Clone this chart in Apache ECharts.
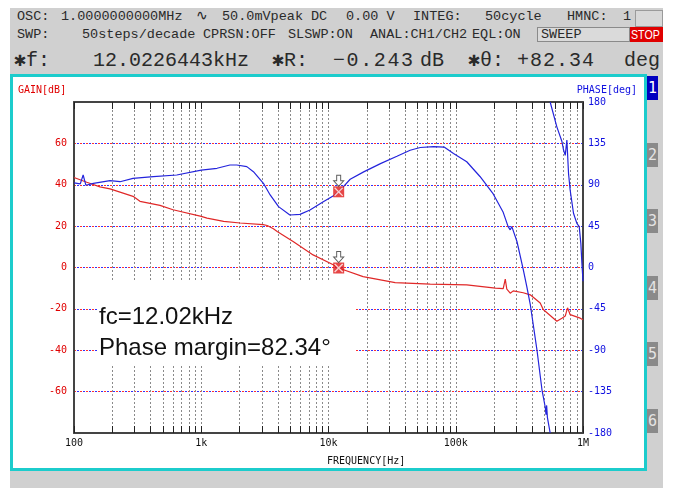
<!DOCTYPE html>
<html>
<head>
<meta charset="utf-8">
<script src="https://cdn.jsdelivr.net/npm/echarts@6/dist/echarts.min.js"></script>
<style>
  body { margin: 0; width: 676px; height: 488px; position: relative; background: #fff; overflow: hidden; font-family: 'Liberation Mono', monospace; }
  #panel { position: absolute; left: 10px; top: 8px; width: 653px; height: 480px; background: #d0d0d0; }
  #frame { position: absolute; left: 10px; top: 74px; width: 631px; height: 391px; border: 3px solid #1ccccc; background: #fff; }
  .t { position: absolute; white-space: pre; line-height: 1; color: #2a2a2a; }
  .s { font-size: 13.5px; }
  .b { font-size: 20px; }
  .box { position: absolute; box-sizing: border-box; }
  .tab { position: absolute; left: 647px; width: 11px; height: 24px; background: #8a8a8a; color: #e4e4e4; font-family: 'DejaVu Sans Mono', monospace; font-size: 15px; line-height: 24px; text-align: center; }
  #chart { position: absolute; left: 0; top: 0; width: 676px; height: 488px; }
</style>
</head>
<body>
<div id="panel"></div>

<!-- header readouts -->
<div class="t s" style="left:17px;top:10px">OSC:</div>
<div class="t s" style="left:61px;top:10px">1.0000000000MHz</div>
<div class="t s" style="left:196px;top:10px">∿</div>
<div class="t s" style="left:222px;top:10px">50.0mVpeak</div>
<div class="t s" style="left:311px;top:10px">DC</div>
<div class="t s" style="left:346px;top:10px">0.00 V</div>
<div class="t s" style="left:413px;top:10px">INTEG:</div>
<div class="t s" style="left:485px;top:10px">50cycle</div>
<div class="t s" style="left:567px;top:10px">HMNC:</div>
<div class="t s" style="left:623px;top:10px">1</div>
<div class="box" style="left:635px;top:10px;width:28px;height:17px;border:1px solid #9a9a9a;background:#d8d8d8"></div>

<div class="t s" style="left:17px;top:28px">SWP:</div>
<div class="t s" style="left:82px;top:28px">50steps/decade</div>
<div class="t s" style="left:203px;top:28px">CPRSN:OFF</div>
<div class="t s" style="left:288px;top:28px">SLSWP:ON</div>
<div class="t s" style="left:370px;top:28px">ANAL:CH1/CH2</div>
<div class="t s" style="left:472px;top:28px">EQL:ON</div>
<div class="box" style="left:537px;top:27px;width:93px;height:15px;border:1px solid #8a8a8a;background:#dadada"></div>
<div class="t s" style="left:541px;top:28px">SWEEP</div>
<div class="box" style="left:630px;top:27px;width:33px;height:15px;background:#e00000"></div>
<div class="t" style="left:631px;top:28px;font-family:'Liberation Sans',sans-serif;font-size:13px;color:#fff;transform:scaleX(0.82);transform-origin:left top">STOP</div>

<div class="t b" style="left:14px;top:51px">✱f:</div>
<div class="t b" style="left:93px;top:51px">12.0226443kHz</div>
<div class="t b" style="left:272px;top:51px">✱R:</div>
<div class="t b" style="left:333px;top:51px;letter-spacing:1.6px">−0.243</div>
<div class="t b" style="left:420px;top:51px">dB</div>
<div class="t b" style="left:468px;top:51px">✱θ:</div>
<div class="t b" style="left:517px;top:51px;letter-spacing:1px">+82.34</div>
<div class="t b" style="left:624px;top:51px">deg</div>

<div id="frame"></div>

<div class="tab" style="top:76px;background:#0000c0;color:#fff">1</div>
<div class="tab" style="top:143px">2</div>
<div class="tab" style="top:209px">3</div>
<div class="tab" style="top:276px">4</div>
<div class="tab" style="top:342px">5</div>
<div class="tab" style="top:409px">6</div>

<div id="chart"></div>

<script>
// frequency axis
const freqMin = 100
const freqMax = 1000000
const freqTicks = [100, 1000, 10000, 100000, 1000000]
const freqTickLabels = ['100', '1k', '10k', '100k', '1M']

// gain trace (red, left axis)
const gainFreq = [100, 126, 160, 192, 291, 330, 474, 600, 1000, 1110, 1500, 2020, 3060, 3300, 3690,
  3950, 5270, 7570, 10900, 12300, 18700, 33400, 63000, 122000, 205000, 236000, 245000, 252000,
  268000, 283000, 339000, 385000, 461000, 487000, 623000, 683000, 725000, 756000, 793000, 951000, 1000000]
const gainDb = [43.5, 41.2, 39, 38, 34.4, 32, 30, 27.9, 24.7, 23.9, 22.3, 21.5, 20.7, 20.3, 18.7,
  17.4, 12.6, 6.1, 1.3, -0.5, -4.4, -7.3, -8, -8.4, -10, -10.2, -5.6, -10.5,
  -12.4, -11.3, -12.2, -13.2, -17.2, -20.3, -26, -24.5, -23.5, -19.5, -22.8, -24.5, -25.3]

// phase trace (blue, right axis), null = wrap from -180 to +180
const phaseFreq = [100, 112, 118, 124, 142, 192, 230, 291, 420, 642, 1000, 1330, 1680, 1900, 2280,
  2570, 3080, 3480, 4050, 4970, 5970, 7150, 9100, 11200, 12023, 14800, 18900, 25600, 34500,
  43800, 52600, 67000, 81000, 96000, 122000, 155000, 197000, 236000, 258000, 268000, 276000,
  303000, 339000, 362000, 385000, 435000, 476000, 505000, 512000, 518000, 525000, 552000,
  552000, 552000, 623000, 683000, 703000, 725000, 747000, 770000, 793000, 842000, 895000,
  934000, 962000, 980000, 1000000, 1000000]
const phaseDeg = [92, 91, 100.6, 89.5, 91.5, 94.4, 93.3, 97, 98.8, 100.6, 106, 107.9, 111.5, 111.5, 109.7,
  104.2, 91.6, 78.9, 66.2, 57.1, 57.8, 62.5, 71.5, 78.9, 82.34, 96, 104, 113, 121,
  127.5, 130.5, 131.5, 131, 124, 115, 99, 80, 60, 44.5, 41, 44.5,
  28, -2, -21, -40, -90, -133, -152, -160, -150, -163, -180,
  null, 180, 153, 137, 128, 122, 138.7, 102, 84, 59, 48,
  44.5, 26, 5, 4, -15]

// cursor readout
const markerFreq = 12022.6443
const markerGain = -0.243
const markerPhase = 82.34

const gainAxis = { min: -80, max: 80, interval: 20 }
const phaseAxis = { min: -180, max: 180, interval: 45 }

const monoFont = 'DejaVu Sans Mono'

function freqLabel(v) {
  const i = freqTicks.findIndex(t => Math.abs(t - v) / t < 1e-6)
  return i >= 0 ? freqTickLabels[i] : ''
}

function freqAxis(position, withLabels) {
  return {
    type: 'log',
    logBase: 10,
    min: freqMin,
    max: freqMax,
    position: position,
    axisLine: { show: true, onZero: false, lineStyle: { color: '#444', width: 2 } },
    axisTick: { show: true, inside: true, length: 7, lineStyle: { color: '#222' } },
    minorTick: { show: true, splitNumber: 9, length: 7, lineStyle: { color: '#222' } },
    axisLabel: {
      show: withLabels,
      showMinLabel: true,
      showMaxLabel: true,
      formatter: freqLabel,
      color: '#111',
      fontFamily: monoFont,
      fontSize: 10,
      margin: 5
    },
    splitLine: { show: withLabels, showMinLine: false, showMaxLine: false, lineStyle: { color: '#8a8a8a', type: [2, 2] } },
    minorSplitLine: { show: withLabels, lineStyle: { color: '#8a8a8a', type: [2, 2] } }
  }
}

function markerSeries(yIndex, val) {
  const pt = [[markerFreq, val]]
  return [
    { type: 'scatter', yAxisIndex: yIndex, data: pt, symbol: 'rect', symbolSize: 11,
      itemStyle: { color: '#e01818' }, z: 5, silent: true },
    { type: 'scatter', yAxisIndex: yIndex, data: pt,
      symbol: 'path://M0,1L1,0L5,4L9,0L10,1L6,5L10,9L9,10L5,6L1,10L0,9L4,5Z', symbolSize: 9,
      itemStyle: { color: '#fff' }, z: 6, silent: true },
    { type: 'scatter', yAxisIndex: yIndex, data: pt,
      symbol: 'path://M3,0H7V5H10L5,10L0,5H3Z', symbolSize: [10, 11], symbolOffset: [0, -11],
      itemStyle: { color: '#fff', borderColor: '#333', borderWidth: 1 }, z: 6, silent: true }
  ]
}

const chart = echarts.init(document.getElementById('chart'), null, { renderer: 'canvas' })

chart.setOption({
  backgroundColor: 'transparent',
  animation: false,
  grid: { left: 74, right: 93, top: 102, bottom: 55, show: false },
  xAxis: [freqAxis('bottom', true), freqAxis('top', false)],
  yAxis: [
    {
      type: 'value',
      position: 'left',
      min: gainAxis.min,
      max: gainAxis.max,
      interval: gainAxis.interval,
      axisLine: { show: true, onZero: false, lineStyle: { color: '#444', width: 2 } },
      axisTick: { show: false },
      axisLabel: {
        color: '#e00000', fontFamily: monoFont, fontSize: 10, margin: 7,
        formatter: v => (v === gainAxis.min || v === gainAxis.max) ? '' : String(v)
      },
      splitLine: { show: true, showMinLine: false, showMaxLine: false,
        lineStyle: { color: '#ff3030', type: [2, 4], dashOffset: 0 } }
    },
    {
      type: 'value',
      position: 'right',
      min: phaseAxis.min,
      max: phaseAxis.max,
      interval: phaseAxis.interval,
      axisLine: { show: true, onZero: false, lineStyle: { color: '#444', width: 2 } },
      axisTick: { show: false },
      axisLabel: { color: '#1010e0', fontFamily: monoFont, fontSize: 10, margin: 5 },
      splitLine: { show: true, showMinLine: false, showMaxLine: false,
        lineStyle: { color: '#3030ff', type: [2, 4], dashOffset: 3 } }
    }
  ],
  graphic: {
    elements: [
      { type: 'rect', shape: { x: 97, y: 281, width: 259, height: 83 }, style: { fill: '#fff' }, z: 1, silent: true },
      { type: 'text', x: 99, y: 317, z: 10, style: { text: 'fc=12.02kHz', font: '24px "Liberation Sans"', fill: '#111', verticalAlign: 'middle' } },
      { type: 'text', x: 99, y: 348, z: 10, style: { text: 'Phase margin=82.34°', font: '24px "Liberation Sans"', fill: '#111', verticalAlign: 'middle' } },
      { type: 'text', x: 18, y: 90, z: 10, style: { text: 'GAIN[dB]', font: '10px "DejaVu Sans Mono"', fill: '#e00000', verticalAlign: 'middle' } },
      { type: 'text', x: 637, y: 90, z: 10, style: { text: 'PHASE[deg]', font: '10px "DejaVu Sans Mono"', fill: '#1010e0', align: 'right', verticalAlign: 'middle' } },
      { type: 'text', x: 327, y: 461, z: 10, style: { text: 'FREQUENCY[Hz]', font: '10px "DejaVu Sans Mono"', fill: '#111', verticalAlign: 'middle' } }
    ]
  },
  series: [
    {
      name: 'Gain',
      type: 'line',
      xAxisIndex: 0,
      yAxisIndex: 0,
      data: gainFreq.map((f, i) => [f, gainDb[i]]),
      showSymbol: false,
      lineStyle: { color: '#e02828', width: 1.2 },
      z: 3
    },
    {
      name: 'Phase',
      type: 'line',
      xAxisIndex: 0,
      yAxisIndex: 1,
      data: phaseFreq.map((f, i) => [f, phaseDeg[i] === null ? '-' : phaseDeg[i]]),
      showSymbol: false,
      connectNulls: false,
      lineStyle: { color: '#2424dc', width: 1.2 },
      z: 3
    },
    ...markerSeries(0, markerGain),
    ...markerSeries(1, markerPhase)
  ]
})
</script>
</body>
</html>
